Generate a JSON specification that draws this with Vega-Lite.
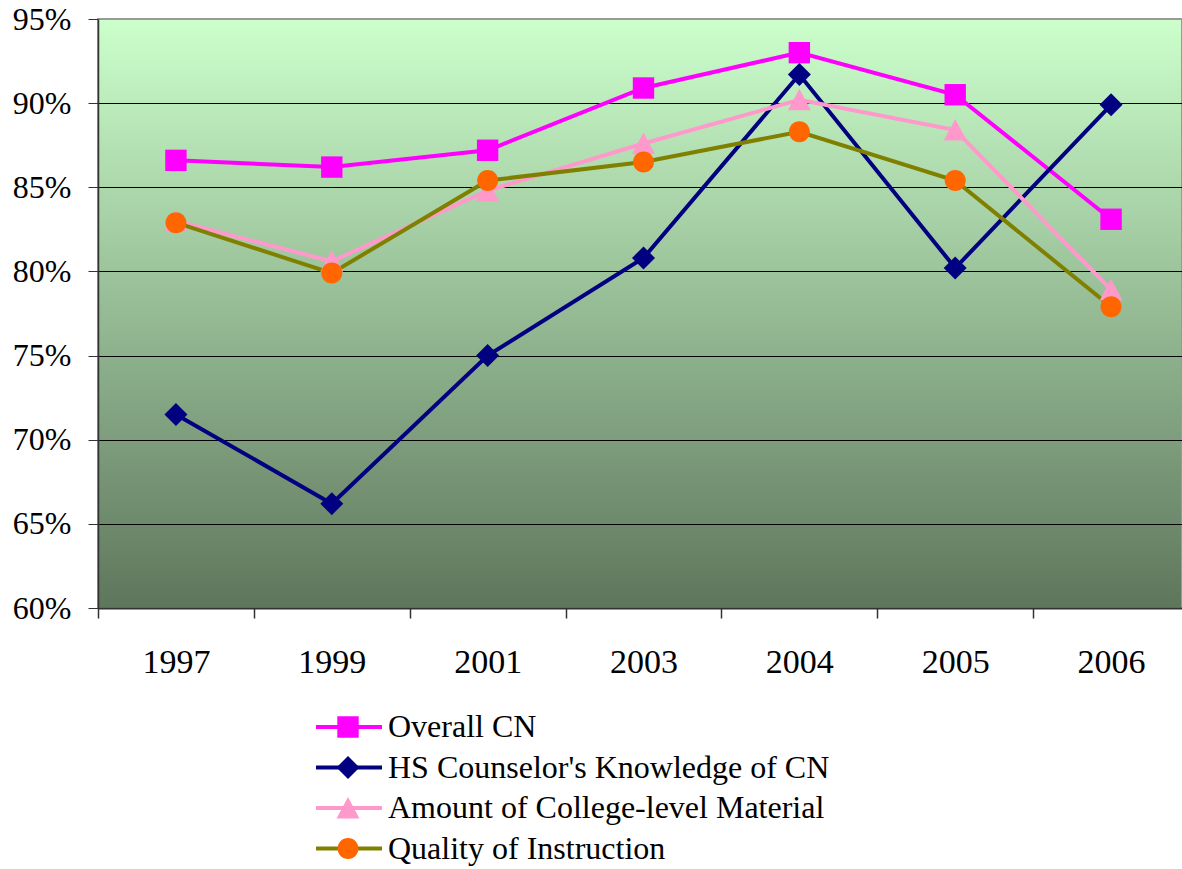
{
  "$schema": "https://vega.github.io/schema/vega-lite/v6.json",
  "width": 1084,
  "height": 589,
  "autosize": {"type": "none"},
  "padding": {"left": 98, "top": 19, "right": 0, "bottom": 261},
  "background": "white",
  "config": {
    "font": "Liberation Serif",
    "view": {
      "fill": {
        "gradient": "linear",
        "x1": 0, "y1": 0, "x2": 0, "y2": 1,
        "stops": [
          {"offset": 0, "color": "#CCFFCC"},
          {"offset": 1, "color": "#5E765C"}
        ]
      },
      "stroke": "#999999",
      "strokeWidth": 2
    },
    "axis": {"labelFont": "Liberation Serif", "labelFontSize": 32, "labelColor": "black", "title": null},
    "legend": {"padding": 0, "labelFont": "Liberation Serif", "labelFontSize": 32, "labelColor": "black", "labelLimit": 800}
  },
  "data": {
    "values": [
      {"year": "1997", "series": "Overall CN", "value": 0.866},
      {"year": "1999", "series": "Overall CN", "value": 0.862},
      {"year": "2001", "series": "Overall CN", "value": 0.872},
      {"year": "2003", "series": "Overall CN", "value": 0.909},
      {"year": "2004", "series": "Overall CN", "value": 0.930},
      {"year": "2005", "series": "Overall CN", "value": 0.905},
      {"year": "2006", "series": "Overall CN", "value": 0.831},
      {"year": "1997", "series": "HS Counselor's Knowledge of CN", "value": 0.715},
      {"year": "1999", "series": "HS Counselor's Knowledge of CN", "value": 0.662},
      {"year": "2001", "series": "HS Counselor's Knowledge of CN", "value": 0.750},
      {"year": "2003", "series": "HS Counselor's Knowledge of CN", "value": 0.808},
      {"year": "2004", "series": "HS Counselor's Knowledge of CN", "value": 0.917},
      {"year": "2005", "series": "HS Counselor's Knowledge of CN", "value": 0.802},
      {"year": "2006", "series": "HS Counselor's Knowledge of CN", "value": 0.899},
      {"year": "1997", "series": "Amount of College-level Material", "value": 0.830},
      {"year": "1999", "series": "Amount of College-level Material", "value": 0.806},
      {"year": "2001", "series": "Amount of College-level Material", "value": 0.848},
      {"year": "2003", "series": "Amount of College-level Material", "value": 0.876},
      {"year": "2004", "series": "Amount of College-level Material", "value": 0.902},
      {"year": "2005", "series": "Amount of College-level Material", "value": 0.884},
      {"year": "2006", "series": "Amount of College-level Material", "value": 0.789},
      {"year": "1997", "series": "Quality of Instruction", "value": 0.829},
      {"year": "1999", "series": "Quality of Instruction", "value": 0.799},
      {"year": "2001", "series": "Quality of Instruction", "value": 0.854},
      {"year": "2003", "series": "Quality of Instruction", "value": 0.865},
      {"year": "2004", "series": "Quality of Instruction", "value": 0.883},
      {"year": "2005", "series": "Quality of Instruction", "value": 0.854},
      {"year": "2006", "series": "Quality of Instruction", "value": 0.779}
    ]
  },
  "encoding": {
    "x": {
      "field": "year",
      "type": "nominal",
      "sort": null,
      "scale": {"paddingInner": 0, "paddingOuter": 0, "range": [0, 1091]},
      "axis": {
        "title": null,
        "labelAngle": 0,
        "labelFontSize": 34,
        "tickBand": "extent",
        "tickSize": 10,
        "tickColor": "#333333",
        "tickWidth": 1.5,
        "domainColor": "#333333",
        "domainWidth": 2,
        "labelPadding": 27,
        "grid": false
      }
    },
    "y": {
      "field": "value",
      "type": "quantitative",
      "scale": {"domain": [0.6, 0.95], "nice": false, "zero": false},
      "axis": {
        "title": null,
        "format": ".0%",
        "values": [0.6, 0.65, 0.7, 0.75, 0.8, 0.85, 0.9, 0.95],
        "tickSize": 10,
        "tickColor": "#333333",
        "labelPadding": 17,
        "domainColor": "#333333",
        "domainWidth": 1.5,
        "grid": true,
        "gridColor": {"condition": {"test": "datum.value >= 0.949", "value": "#999999"}, "value": "black"},
        "gridWidth": 1,
        "gridOpacity": 1
      }
    }
  },
  "layer": [
    {
      "mark": {"type": "line", "strokeWidth": 4},
      "encoding": {
        "stroke": {
          "field": "series",
          "type": "nominal",
          "scale": {
            "domain": ["Overall CN", "HS Counselor's Knowledge of CN", "Amount of College-level Material", "Quality of Instruction"],
            "range": ["#FF00FF", "#000080", "#FF99CC", "#808000"]
          },
          "legend": {
            "orient": "none",
            "legendX": 216,
            "legendY": 692,
            "title": null,
            "symbolType": "stroke",
            "symbolSize": 4356,
            "symbolStrokeWidth": 4,
            "labelExpr": "''",
            "clipHeight": 32,
            "rowPadding": 8.5,
            "labelOffset": 10
          }
        }
      }
    },
    {
      "mark": {"type": "point", "filled": true, "opacity": 1, "strokeWidth": 0, "size": 400},
      "encoding": {
        "fill": {
          "field": "series",
          "type": "nominal",
          "sort": null,
          "scale": {"range": ["#FF00FF", "#000080", "#FF99CC", "#FF6600"]},
          "legend": {
            "orient": "none",
            "legendX": 234,
            "legendY": 692,
            "title": null,
            "symbolSize": 400,
            "symbolStrokeWidth": 0,
            "symbolOpacity": 1,
            "clipHeight": 32,
            "rowPadding": 8.5,
            "labelOffset": 24
          }
        },
        "shape": {
          "field": "series",
          "type": "nominal",
          "sort": null,
          "scale": {
            "range": [
              "M-1.07,-1.07H1.07V1.07H-1.07Z",
              "M0,-1.15L1.15,0L0,1.15L-1.15,0Z",
              "M0,-1.1L1.15,1.05L-1.15,1.05Z",
              "M1.05,0A1.05,1.05,0,1,1,-1.05,0A1.05,1.05,0,1,1,1.05,0Z"
            ]
          },
          "legend": {
            "orient": "none",
            "legendX": 234,
            "legendY": 692,
            "title": null,
            "symbolSize": 400,
            "symbolStrokeWidth": 0,
            "symbolOpacity": 1,
            "clipHeight": 32,
            "rowPadding": 8.5,
            "labelOffset": 24
          }
        }
      }
    }
  ]
}
